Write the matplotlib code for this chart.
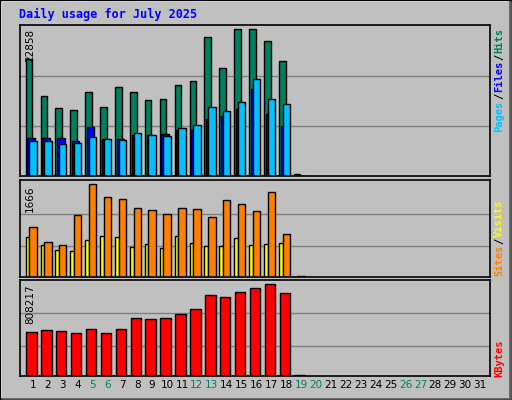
import matplotlib
matplotlib.use("Agg")
import matplotlib.pyplot as plt
from matplotlib.lines import Line2D
import numpy as np

days = list(range(1, 32))
weekends = [5, 6, 12, 13, 19, 20, 26, 27]
max_hits, max_visits_sites, max_kb = 22858, 1666, 808217
hits = [18180, 12500, 10640, 10230, 13020, 10800, 13900, 13020, 11880, 12040, 14210, 14830, 21700, 16840, 22858, 22858, 21030, 17930, 250]
files = [5890, 5890, 5890, 5430, 7600, 5740, 5740, 6350, 6350, 6510, 7130, 7130, 8840, 9300, 10390, 13490, 9610, 7750, 0]
pages = [5430, 5430, 4960, 5120, 6050, 5740, 5580, 6670, 6350, 6200, 7440, 7910, 10700, 10080, 11470, 15190, 11940, 11160, 0]
visits = [724, 580, 489, 471, 670, 742, 724, 543, 598, 525, 742, 616, 561, 561, 706, 580, 598, 616, 0]
sites = [905, 634, 579, 1123, 1666, 1430, 1394, 1249, 1213, 1141, 1249, 1231, 1087, 1376, 1304, 1195, 1521, 779, 18]
kbytes = [381900, 399700, 390800, 373000, 408600, 373000, 408600, 506300, 497400, 506300, 541800, 586200, 710500, 692800, 737200, 772700, 808217, 728300, 8000]

bg = "#c0c0c0"
fig = plt.figure(figsize=(5.12, 4.0), dpi=100, facecolor=bg)
mono = "DejaVu Sans Mono"

def mk(top, bot):
    ax = fig.add_axes([20/512, (400-bot)/400, 470/512, (bot-top)/400])
    ax.set_facecolor(bg)
    ax.set_xlim(0.13, 31.67)
    ax.set_xticks([]); ax.set_yticks([])
    for s in ax.spines.values():
        s.set_linewidth(1.2); s.set_color("black")
    return ax

d = np.array(days[:len(hits)])
ax1 = mk(25, 176)
yl = max_hits*453/440
ax1.set_ylim(0, yl)
for f in (0.33, 0.66):
    ax1.axhline(yl*f, color="#808080", lw=1, zorder=0)
kw = dict(edgecolor="black", linewidth=1)
ax1.bar(d-0.27, hits, 0.44, color="#00805c", **kw)
ax1.bar(d-0.13, files, 0.5, color="#0000ff", **kw)
ax1.bar(d, pages, 0.5, color="#00c0ff", **kw)

ax2 = mk(180, 277)
yl = max_visits_sites*289/276
ax2.set_ylim(0, yl)
for f in (0.315, 0.654):
    ax2.axhline(yl*f, color="#808080", lw=1, zorder=0)
ax2.bar(d-0.37, visits, 0.24, color="#ffff00", **kw)
ax2.bar(d, sites, 0.5, color="#ff8000", **kw)

ax3 = mk(280, 375.5)
yl = max_kb*286/273
ax3.set_ylim(0, yl)
for f in (0.304, 0.65):
    ax3.axhline(yl*f, color="#808080", lw=1, zorder=0)
ax3.bar(d-0.1, kbytes, 0.7, color="#ff0000", **kw)

for dd in days:
    ax3.text(dd, -0.1, str(dd), transform=ax3.get_xaxis_transform(), ha="center", va="center",
             fontsize=7.5, color="#008060" if dd in weekends else "black")

fig.text(19/512, 1-14/400, "Daily usage for July 2025", color="#0000ff", fontsize=8.5, fontweight="bold",
         family=mono, va="center", ha="left")

for y, v in ((29, max_hits), (185, max_visits_sites), (284, max_kb)):
    fig.text(30/512, 1-y/400, str(v), rotation=90, ha="center", va="top", fontsize=7.5)

def rlabel(parts, ytop):
    y = ytop
    for txt, col in parts:
        h = len(txt)*6.6
        fig.text(499/512, 1-(y+h/2)/400, txt, rotation=90, color=col, ha="center", va="center",
                 fontsize=7.5, fontweight="bold", family=mono)
        y += h
rlabel([("Hits", "#00805c"), ("/", "black"), ("Files", "#0000ff"), ("/", "black"), ("Pages", "#00c0ff")], 27)
rlabel([("Visits", "#ffff00"), ("/", "black"), ("Sites", "#ff8000")], 198)
rlabel([("KBytes", "#ff0000")], 338)

fig.add_artist(Line2D([1/512, 1/512, 510/512], [1/400, 399/400, 399/400], color="white", lw=1.5, transform=fig.transFigure))
fig.add_artist(Line2D([1/512, 510/512, 510/512], [1/400, 1/400, 399/400], color="#606060", lw=2, transform=fig.transFigure))
fig.add_artist(Line2D([0, 1, 1, 0, 0], [0, 0, 1, 1, 0], color="black", lw=1, transform=fig.transFigure))

fig.savefig("out.png", dpi=100, facecolor=bg)
